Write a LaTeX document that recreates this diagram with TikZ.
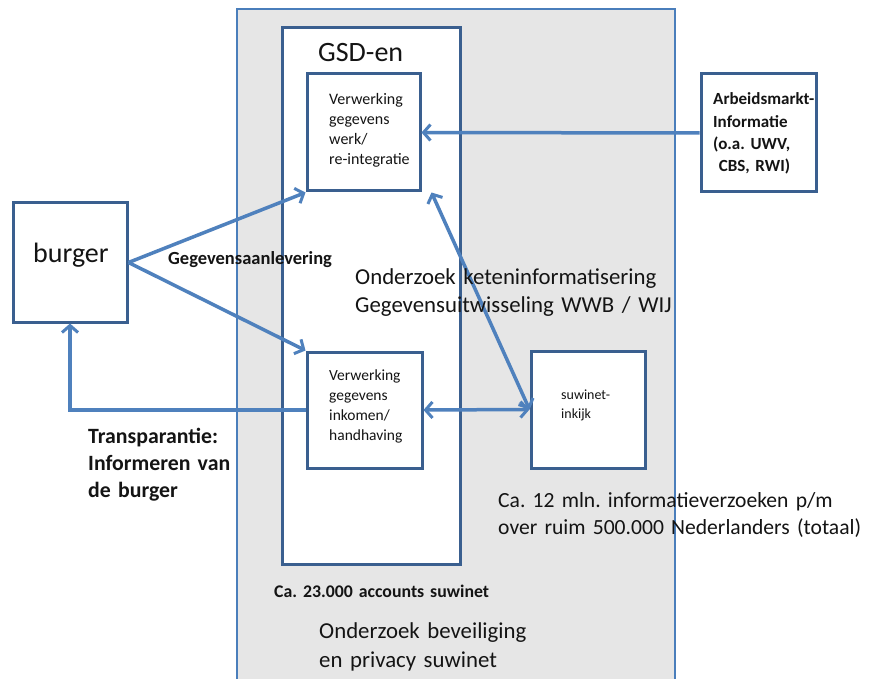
\documentclass[tikz,border=0pt]{standalone}
\usepackage{fontspec}
\setmainfont{Carlito}[WordSpace=0.6]
\usetikzlibrary{arrows.meta}
\definecolor{outerblue}{HTML}{4A7EBB}
\definecolor{boxblue}{HTML}{3A5F8F}
\definecolor{arrblue}{HTML}{4F81BD}
\definecolor{bggray}{HTML}{E6E6E6}
\definecolor{txt}{HTML}{141414}
\frenchspacing
\tikzset{
  box/.style={draw=boxblue, line width=3pt, fill=white, inner sep=0pt},
  conn/.style={draw=arrblue, line width=3.5pt},
  tip/.style={-{Straight Barb[length=7pt,width=16pt,line width=3pt]}},
  dtip/.style={{Straight Barb[length=7pt,width=16pt,line width=3pt]}-{Straight Barb[length=7pt,width=16pt,line width=3pt]}},
  lbl/.style={anchor=base west, inner sep=0pt, text=txt, text width=#1, align=left},
  lbl/.default=300pt,
}
\begin{document}
\begin{tikzpicture}[x=1pt,y=-1pt]
\useasboundingbox (0,0) rectangle (876,679);
\clip (0,0) rectangle (876,679);
\fill[white] (0,0) rectangle (876,679);
% outer region
\draw[draw=outerblue, line width=2.5pt, fill=bggray] (237,9) rectangle (675,700);
% GSD-en box
\node[box, minimum width=178pt, minimum height=536pt] (gsd) at (371,296) {};
\node[lbl, font=\fontsize{28}{30}\selectfont] (gsdt) at (318,62) {GSD-en};
% inner boxes
\node[box, minimum width=113pt, minimum height=117pt] (werk) at (363.5,132.5) {};
\node[box, minimum width=115pt, minimum height=116pt] (inkomen) at (364.5,410) {};
\node[box, minimum width=114pt, minimum height=117pt] (suwinet) at (588,409.5) {};
\node[box, minimum width=114pt, minimum height=119pt] (burger) at (70,262.5) {};
\node[box, minimum width=115pt, minimum height=118pt] (arb) at (758.5,133) {};
% box texts
\node[lbl=100pt, font=\fontsize{16}{20}\selectfont] (werkt) at (329,105) {Verwerking\\gegevens\\werk/\\re-integratie};
\node[lbl=100pt, font=\fontsize{15.5}{20}\selectfont] (inkomt) at (329,380) {Verwerking\\gegevens\\inkomen/\\handhaving};
\node[lbl=100pt, font=\fontsize{14}{19}\selectfont] (suwt) at (561,399) {suwinet-\\inkijk};
\node[lbl=100pt, font=\fontsize{28}{30}\selectfont] (burgert) at (33,263) {burger};
\node[lbl=110pt, font=\bfseries\fontsize{17}{22.3}\selectfont] (arbt) at (713,105) {Arbeidsmarkt-\\Informatie\\(o.a. UWV,\\\ CBS, RWI)};
% connectors
\draw[conn, tip] (burger.east) -- (werk.south west);
\draw[conn, tip] (burger.east) -- (inkomen.north west);
\draw[conn, tip] (arb.west) -- (werk.east);
\coordinate (werkc) at ([xshift=10pt]werk.south east);
\draw[conn, dtip] (werkc) -- (suwinet.west);
\draw[conn, dtip] (inkomen.east) -- (suwinet.west);
\draw[conn, tip] (inkomen.west) -| (burger.south);
% free labels
\node[lbl, font=\bfseries\fontsize{18.5}{20}\selectfont] (geg) at (168,265) {Gegevensaanlevering};
\node[lbl=340pt, font=\fontsize{22.8}{28}\selectfont] (ond1) at (355,285) {Onderzoek keteninformatisering\\Gegevensuitwisseling WWB / WIJ};
\node[lbl=200pt, font=\bfseries\fontsize{21.8}{27}\selectfont] (transp) at (88,443) {Transparantie:\\Informeren van\\de burger};
\node[lbl=380pt, font=\fontsize{21.6}{27}\selectfont] (ca12) at (498,507) {Ca. 12 mln. informatieverzoeken p/m\\over ruim 500.000 Nederlanders (totaal)};
\node[lbl, font=\bfseries\fontsize{17.8}{20}\selectfont] (ca23) at (274,597) {Ca. 23.000 accounts suwinet};
\node[lbl, font=\fontsize{22.8}{29}\selectfont] (ond2) at (319,638) {Onderzoek beveiliging\\en privacy suwinet};
\end{tikzpicture}
\end{document}
